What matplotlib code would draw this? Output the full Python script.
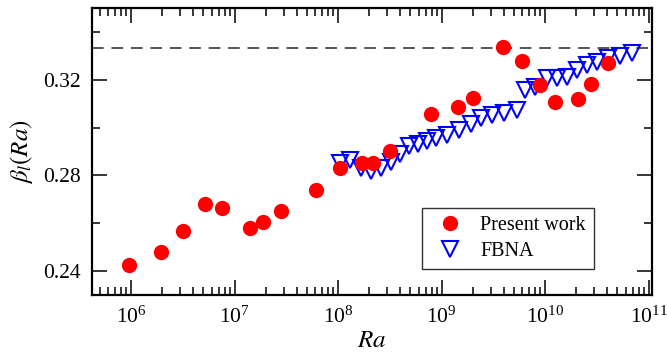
import matplotlib
matplotlib.use('Agg')
import matplotlib.pyplot as plt
from matplotlib.ticker import LogLocator, MultipleLocator, NullFormatter

plt.rcParams['font.family'] = ['Liberation Serif', 'DejaVu Serif']
plt.rcParams['mathtext.fontset'] = 'stix'

# Present work (red circles)
ra_present = [9.5e5, 1.95e6, 3.2e6, 5.2e6, 7.6e6, 1.4e7, 1.9e7, 2.8e7, 6.1e7,
              1.05e8, 1.7e8, 2.2e8, 3.2e8, 7.9e8, 1.44e9, 2.0e9, 3.9e9, 6.0e9,
              8.9e9, 1.24e10, 2.07e10, 2.8e10, 4.07e10]
beta_present = [0.2425, 0.2480, 0.2567, 0.2680, 0.2665, 0.2582, 0.2605, 0.2650, 0.2738,
                0.2832, 0.2853, 0.2853, 0.2904, 0.3057, 0.3085, 0.3125, 0.3337, 0.3278,
                0.3179, 0.3107, 0.3121, 0.3182, 0.3270]

# FBNA (blue open triangles)
ra_fbna = [1.05e8, 1.31e8, 1.67e8, 2.08e8, 2.60e8, 3.25e8, 3.97e8, 4.85e8, 5.93e8,
           7.24e8, 8.85e8, 1.13e9, 1.48e9, 1.93e9, 2.41e9, 3.10e9, 4.0e9, 5.36e9,
           6.41e9, 8.0e9, 1.04e10, 1.31e10, 1.63e10, 2.04e10, 2.55e10, 3.18e10,
           4.06e10, 5.31e10, 6.93e10]
beta_fbna = [0.2850, 0.2863, 0.2829, 0.2817, 0.2829, 0.2854, 0.2888, 0.2921, 0.2933,
             0.2942, 0.2958, 0.2967, 0.2988, 0.3017, 0.3038, 0.3054, 0.3063, 0.3075,
             0.3158, 0.3171, 0.3208, 0.3208, 0.3213, 0.3242, 0.3263, 0.3275,
             0.3292, 0.3300, 0.3313]

asymptote = 1.0 / 3.0

fig = plt.figure(figsize=(6.67, 3.57), dpi=100)
ax = fig.add_axes([0.138, 0.1737, 0.8395, 0.8039])

ax.axhline(asymptote, color='#555555', lw=1.4, dashes=(6, 4), zorder=1)
h2, = ax.plot(ra_fbna, beta_fbna, 'v', ms=11, mfc='none', mec='blue', mew=1.5,
              label='FBNA', zorder=2)
h1, = ax.plot(ra_present, beta_present, 'o', ms=11, color='red', mec='none',
              label='Present work', zorder=3)

ax.set_xscale('log')
ax.set_xlim(4.2e5, 1.08e11)
ax.set_ylim(0.23, 0.35)
ax.xaxis.set_major_locator(LogLocator(base=10, numticks=20))
ax.xaxis.set_minor_locator(LogLocator(base=10, subs=range(2, 10), numticks=100))
ax.xaxis.set_minor_formatter(NullFormatter())
ax.yaxis.set_minor_locator(MultipleLocator(0.02))
ax.set_yticks([0.24, 0.28, 0.32])
ax.set_yticklabels(['0.24', '0.28', '0.32'])

ax.tick_params(which='both', direction='in', top=True, right=True, labelsize=15.5, width=1.1)
ax.tick_params(which='major', length=11, pad=8)
ax.tick_params(which='minor', length=6)
for s in ax.spines.values():
    s.set_linewidth(1.6)

ax.set_xlabel('$Ra$', fontsize=18, labelpad=2)
ax.set_ylabel(r'$\beta_l(Ra)$', fontsize=18, labelpad=6)

leg = ax.legend(handles=[h1, h2], loc='lower right', bbox_to_anchor=(0.896, 0.09),
                fontsize=14.5, frameon=True, fancybox=False, edgecolor='black',
                borderpad=0.4, handletextpad=0.5, borderaxespad=0, labelspacing=0.35)
leg.get_frame().set_linewidth(1.0)

fig.savefig('out.png', dpi=100)
